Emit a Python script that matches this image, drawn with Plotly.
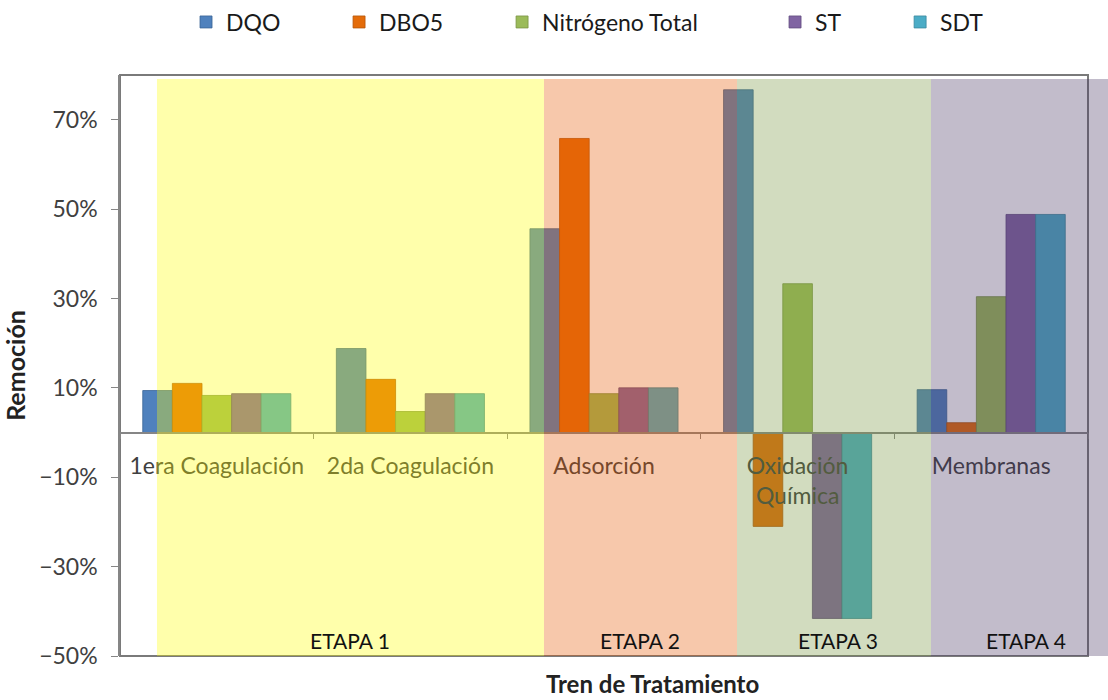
import plotly.graph_objects as go

# Remoción por etapa del tren de tratamiento
categorias = ["1era Coagulación", "2da Coagulación", "Adsorción", "Oxidación<br>Química", "Membranas"]
dqo = [0.094, 0.188, 0.456, 0.767, 0.096]
dbo5 = [0.110, 0.119, 0.658, -0.210, 0.022]
nitrogeno = [0.083, 0.047, 0.087, 0.333, 0.304]
st = [0.087, 0.087, 0.100, -0.416, 0.488]
sdt = [0.087, 0.087, 0.100, -0.416, 0.488]

series = [
    ("DQO", dqo, "#4F81BD", "#3A6496"),
    ("DBO5", dbo5, "#E46C0A", "#B5560A"),
    ("Nitrógeno Total", nitrogeno, "#9BBB59", "#7A9444"),
    ("ST", st, "#8064A2", "#624C80"),
    ("SDT", sdt, "#4BACC6", "#3A889E"),
]

etapas = ["ETAPA 1", "ETAPA 2", "ETAPA 3", "ETAPA 4"]
# límites horizontales de cada etapa (fracción del área de trazado)
etapa_x0 = [0.0382, 0.4380, 0.6374, 0.8378]
etapa_x1 = [0.4380, 0.6374, 0.8378, 1.0210]
etapa_color = ["rgba(255,255,0,0.33)", "rgba(232,88,0,0.33)",
               "rgba(118,148,62,0.33)", "rgba(70,52,98,0.33)"]
etapa_lbl_x = [0.2376, 0.5370, 0.7417, 0.9360]

legend_x = [0.0682, 0.2263, 0.3947, 0.6767, 0.8059]

FONT = "Lato"

fig = go.Figure()
for i, (name, vals, col, edge) in enumerate(series):
    fig.add_trace(go.Bar(
        x=categorias, y=vals, name=name,
        marker=dict(color=col, line=dict(color=edge, width=0.8)),
        legend="legend" if i == 0 else f"legend{i + 1}",
    ))

shapes = [
    # marco del área de trazado
    dict(type="rect", xref="paper", yref="paper", x0=0, x1=1, y0=0, y1=1,
         line=dict(color="#7A7A7A", width=2), layer="below"),
]
for x0, x1, c in zip(etapa_x0, etapa_x1, etapa_color):
    shapes.append(dict(type="rect", xref="paper", yref="paper",
                       x0=x0, x1=x1, y0=0, y1=0.993,
                       fillcolor=c, line=dict(width=0), layer="above"))

annotations = []
for txt, x in zip(etapas, etapa_lbl_x):
    annotations.append(dict(text=txt, xref="paper", yref="paper", x=x, y=0.026,
                            xanchor="center", yanchor="middle", showarrow=False,
                            font=dict(family=FONT, size=21, color="#111111")))
annotations.append(dict(text="<b>Tren de Tratamiento</b>", xref="paper", yref="paper",
                        x=0.5496, y=-0.0475, xanchor="center", yanchor="middle",
                        showarrow=False, font=dict(family=FONT, size=24, color="#222222")))

layout_legends = {}
for i, lx in enumerate(legend_x):
    key = "legend" if i == 0 else f"legend{i + 1}"
    layout_legends[key] = dict(
        x=lx, y=1.0912, xanchor="left", yanchor="middle", orientation="h",
        bgcolor="rgba(0,0,0,0)", itemwidth=30,
        font=dict(family=FONT, size=23, color="#1A1A1A"),
    )

fig.update_layout(
    width=1108, height=700,
    margin=dict(l=120, r=20, t=75, b=44, autoexpand=False),
    paper_bgcolor="white", plot_bgcolor="white",
    barmode="group", bargap=0.235, bargroupgap=0,
    font=dict(family=FONT, size=23, color="#404040"),
    showlegend=True,
    shapes=shapes, annotations=annotations,
    **layout_legends,
)
fig.update_xaxes(
    type="category", anchor="free", position=50 / 130,
    showline=True, linecolor="#868686", linewidth=1.5,
    ticks="outside", tickson="boundaries", ticklen=6, tickcolor="#868686",
    tickfont=dict(family=FONT, size=23, color="#404040"),
    ticklabelstandoff=13, showgrid=False, zeroline=False,
)
fig.update_yaxes(
    range=[-0.5, 0.8], tick0=-0.5, dtick=0.2, tickformat=".0%",
    showline=True, linecolor="#868686", linewidth=1.5,
    ticks="outside", ticklen=7, tickcolor="#868686",
    tickfont=dict(family=FONT, size=23, color="#404040"),
    ticklabelstandoff=9, showgrid=False, zeroline=False,
    title=dict(text="<b>Remoción</b>", font=dict(family=FONT, size=25, color="#222222"), standoff=9),
)

fig.write_html("out.html")
